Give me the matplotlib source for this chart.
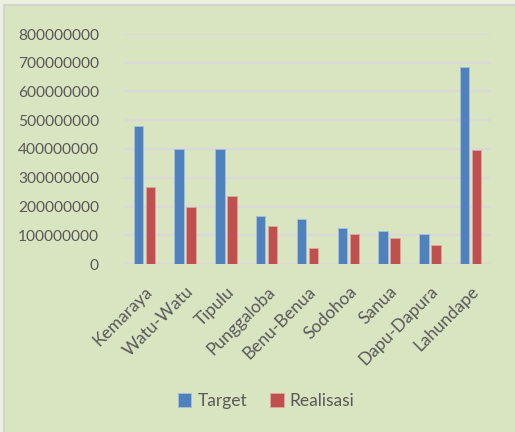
import matplotlib
matplotlib.use("Agg")
import matplotlib.pyplot as plt
import numpy as np
from matplotlib.patches import Rectangle

categories = ["Kemaraya", "Watu-Watu", "Tipulu", "Punggaloba", "Benu-Benua",
              "Sodohoa", "Sanua", "Dapu-Dapura", "Lahundape"]
target = [480e6, 400e6, 400e6, 167e6, 157e6, 125e6, 115e6, 105e6, 686e6]
realisasi = [269e6, 200e6, 237e6, 132e6, 55e6, 105e6, 89e6, 65e6, 395e6]
yticks = [0, 100000000, 200000000, 300000000, 400000000, 500000000,
          600000000, 700000000, 800000000]

plt.rcParams['font.family'] = ['Lato', 'DejaVu Sans']
txt = '#595959'
bg = '#D9E4C1'

fig = plt.figure(figsize=(5.15, 4.32), dpi=100)
fig.patch.set_facecolor('#EBF1DE')
# inner chart panel with border
fig.patches.append(Rectangle((4/515, -0.1), 1.1, 1.1 - 5/432, transform=fig.transFigure,
                             facecolor=bg, edgecolor='#D4D4D4', linewidth=1.5, zorder=-1))

ax = fig.add_axes([124/515, 1 - 264/432, (491 - 124)/515, 230/432])
ax.set_facecolor(bg)
x = np.arange(len(categories))
w = 0.23
ax.bar(x - 0.147, target, w, color='#4F81BD', edgecolor='#A9C0DC', linewidth=0.6,
       label='Target', zorder=3)
ax.bar(x + 0.147, realisasi, w, color='#C0504D', edgecolor='#DDA5A3', linewidth=0.6,
       label='Realisasi', zorder=3)
ax.set_xlim(-0.5, len(categories) - 0.5)
ax.set_ylim(0, 800e6)
ax.set_yticks(yticks)
ax.set_yticklabels([str(v) for v in yticks], fontsize=11.2, color=txt)
ax.grid(axis='y', color='#D9D9D9', linewidth=1.5, zorder=0)
for s in ax.spines.values():
    s.set_visible(False)
ax.tick_params(axis='y', length=0, pad=18)
ax.tick_params(axis='x', length=0, pad=14)
ax.set_xticks(x)
ax.set_xticklabels(categories, rotation=45, ha='right', rotation_mode='anchor',
                   fontsize=12.5, color=txt)
ax.axhline(0, color='#D9D9D9', linewidth=1.5, zorder=2)

leg = fig.legend(loc='center', bbox_to_anchor=(266/515, 1 - 401/432), ncol=2,
                 frameon=False, fontsize=12.5, handlelength=0.8, handleheight=0.8,
                 handletextpad=0.35, columnspacing=1.3, labelcolor=txt)

fig.savefig('out.png', dpi=100, facecolor=fig.get_facecolor())
